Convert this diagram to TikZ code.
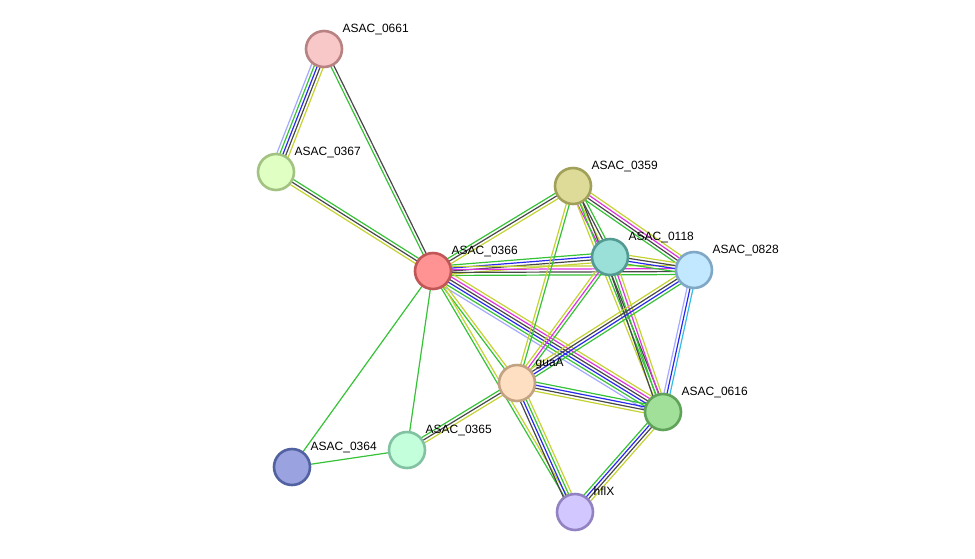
\documentclass[tikz,border=0pt]{standalone}
\usepackage{fontspec}
\setmainfont{Liberation Sans}
\usetikzlibrary{calc,backgrounds}

% evidence channels
\definecolor{txtmine}{HTML}{C4D232}
\definecolor{coexp}{HTML}{484848}
\definecolor{neighb}{HTML}{36C236}
\definecolor{cooccur}{HTML}{2828EE}
\definecolor{expt}{HTML}{DE34DE}
\definecolor{dbase}{HTML}{34BCE4}
\definecolor{homol}{HTML}{A4A8FF}

% protein fills / borders
\definecolor{f0661}{HTML}{F8C8C8}\definecolor{d0661}{HTML}{B88282}
\definecolor{f0367}{HTML}{E0FFC2}\definecolor{d0367}{HTML}{A2C282}
\definecolor{f0366}{HTML}{FF9292}\definecolor{d0366}{HTML}{C05656}
\definecolor{f0359}{HTML}{DEDA98}\definecolor{d0359}{HTML}{A0A058}
\definecolor{f0118}{HTML}{9AE0D8}\definecolor{d0118}{HTML}{529A92}
\definecolor{f0828}{HTML}{C2E8FF}\definecolor{d0828}{HTML}{80A8C6}
\definecolor{fguaA}{HTML}{FFDFC2}\definecolor{dguaA}{HTML}{C2A282}
\definecolor{f0616}{HTML}{A0E098}\definecolor{d0616}{HTML}{60A25A}
\definecolor{f0365}{HTML}{C2FFDA}\definecolor{d0365}{HTML}{82C2A2}
\definecolor{f0364}{HTML}{9AA2E0}\definecolor{d0364}{HTML}{5262A0}
\definecolor{fhflX}{HTML}{D2C8FF}\definecolor{dhflX}{HTML}{9282C2}

\tikzset{
    protein/.style={circle,inner sep=0pt,minimum size=36pt,line width=2.6pt},
    plabel/.style={anchor=base west,inner sep=0pt,font=\fontsize{12}{14}\selectfont},
    evidence/.style={line width=1.2pt}
}

% #1 from, #2 to, #3 number of lines, #4 colours
\newcommand{\netedge}[4]{%
    \foreach \col [count=\i] in {#4}{%
        \pgfmathsetmacro{\off}{(\i-(#3+1)/2)*3}
        \draw [\col, evidence] ($(#1)!\off pt!90:(#2)$) -- ($(#2)!\off pt!-90:(#1)$);
    }}

\begin{document}
\begin{tikzpicture}[x=1pt,y=-1pt]
    \useasboundingbox (0,0) rectangle (975,558);

    \foreach \nm/\x/\y/\txt in {0661/324/49/ASAC\_0661, 0367/276/172/ASAC\_0367,
            0366/433/271/ASAC\_0366, 0359/573/186/ASAC\_0359, 0118/610/257/ASAC\_0118,
            0828/694/270/ASAC\_0828, guaA/517/383/guaA, 0616/663/412/ASAC\_0616,
            0365/407/450/ASAC\_0365, 0364/292/467/ASAC\_0364, hflX/575/512/hflX}{%
        \node [protein, fill=f\nm, draw=d\nm] (p\nm) at (\x,\y) {};
        \node [plabel] (l\nm) at (\x+18.5,\y-17) {\txt};
    }

    \begin{pgfonlayer}{background}
        \netedge{p0661}{p0367}{5}{homol,neighb,cooccur,coexp,txtmine}
        \netedge{p0661}{p0366}{2}{neighb,coexp}
        \netedge{p0367}{p0366}{3}{txtmine,coexp,neighb}
        \netedge{p0366}{p0359}{3}{txtmine,coexp,neighb}
        \netedge{p0366}{p0118}{4}{txtmine,coexp,cooccur,neighb}
        \netedge{p0366}{p0828}{4}{neighb,coexp,expt,txtmine}
        \netedge{p0366}{p0616}{6}{homol,neighb,cooccur,coexp,expt,txtmine}
        \netedge{p0366}{pguaA}{2}{neighb,txtmine}
        \netedge{p0366}{phflX}{2}{neighb,txtmine}
        \netedge{p0366}{p0365}{1}{neighb}
        \netedge{p0366}{p0364}{1}{neighb}
        \netedge{p0364}{p0365}{1}{neighb}
        \netedge{p0365}{pguaA}{3}{txtmine,coexp,neighb}
        \netedge{p0359}{p0118}{4}{expt,txtmine,coexp,neighb}
        \netedge{p0359}{p0828}{4}{neighb,coexp,expt,txtmine}
        \netedge{p0359}{p0616}{3}{txtmine,neighb,coexp}
        \netedge{p0359}{pguaA}{2}{txtmine,neighb}
        \netedge{p0118}{p0828}{4}{neighb,cooccur,coexp,txtmine}
        \netedge{p0118}{p0616}{4}{coexp,neighb,expt,txtmine}
        \netedge{p0118}{pguaA}{3}{txtmine,expt,neighb}
        \netedge{p0828}{pguaA}{4}{txtmine,coexp,cooccur,neighb}
        \netedge{p0828}{p0616}{3}{homol,cooccur,dbase}
        \netedge{pguaA}{p0616}{4}{txtmine,coexp,cooccur,neighb}
        \netedge{pguaA}{phflX}{4}{coexp,cooccur,neighb,txtmine}
        \netedge{p0616}{phflX}{4}{neighb,cooccur,coexp,txtmine}
    \end{pgfonlayer}
\end{tikzpicture}
\end{document}
